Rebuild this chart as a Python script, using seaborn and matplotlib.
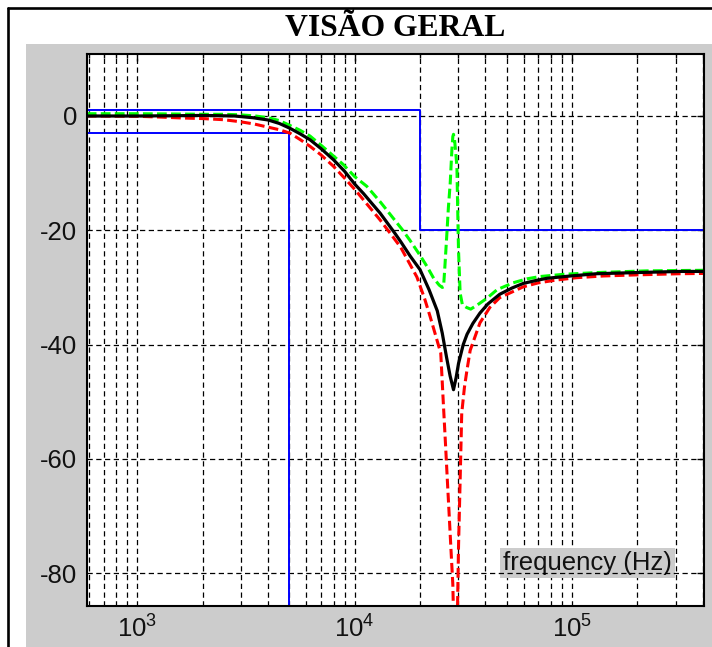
import numpy as np
import pandas as pd
import matplotlib
matplotlib.use("Agg")
import matplotlib.pyplot as plt
from matplotlib.patches import Rectangle
from matplotlib.lines import Line2D
from matplotlib.ticker import LogLocator, NullFormatter
import seaborn as sns

# ---------------- data ----------------
black_f = [585, 1000, 1500, 2000, 2800, 3400, 4000, 4500, 5040, 5600, 6230, 7000, 7990, 9000,
           10000, 11000, 12000, 13100, 14000, 15300, 16300, 18000, 20000, 22000, 24000, 25300,
           26500, 27500, 28500, 29300, 30060, 31600, 32900, 35000, 37700, 41000, 46500, 53000,
           59700, 68000, 76800, 98200, 130000, 198000, 315000, 405000]
black_db = [0.0, 0.0, 0.05, 0.1, 0.0, -0.3, -0.7, -1.3, -2.15, -3.1, -4.15, -5.7, -7.65, -9.7,
            -11.9, -13.6, -15.3, -17.0, -18.5, -20.5, -22.0, -24.5, -26.9, -30.4, -34.1, -38.0,
            -42.3, -45.5, -47.9, -45.8, -43.3, -40.0, -38.2, -36.3, -34.5, -32.9, -31.2, -30.1,
            -29.3, -28.8, -28.4, -28.0, -27.6, -27.4, -27.2, -27.2]

red_f = [585, 1000, 1300, 1600, 2000, 2500, 2970, 3450, 3940, 4500, 5040, 5600, 6230, 7000,
         7990, 9000, 10200, 11500, 13100, 15100, 16300, 18000, 19350, 21000, 22250, 23500,
         24900, 25650, 26200, 26700, 27200, 27700, 28300, 28800, 29150, 29500, 29800, 30060,
         30580, 31100, 32000, 32860, 34020, 37720, 41890, 46490, 53000, 59660, 70000, 85000,
         105000, 139000, 200000, 315000, 405000]
red_db = [0.0, -0.05, -0.2, -0.35, -0.45, -0.65, -1.0, -1.4, -1.9, -2.4, -3.0, -4.1, -5.3, -6.8,
          -8.8, -10.9, -13.2, -15.6, -18.2, -21.3, -23.0, -26.0, -28.2, -32.0, -35.1, -38.2,
          -41.5, -51.0, -57.6, -63.7, -69.5, -75.3, -82.0, -95.0, -130.0, -95.0, -84.0, -75.3,
          -63.7, -52.0, -47.5, -44.5, -41.0, -36.2, -33.5, -31.8, -30.8, -29.9, -29.2, -28.7,
          -28.3, -28.0, -27.8, -27.6, -27.55]

green_f = [585, 1000, 1500, 2000, 2500, 3000, 3500, 4000, 4500, 5040, 5610, 6230, 7000, 7990,
           8870, 10000, 11370, 13100, 14700, 16500, 18000, 20000, 21500, 23100, 24500, 25300,
           25650, 26000, 26580, 27000, 27520, 28020, 28300, 28500, 28800, 29200, 29550, 29740,
           30050, 30580, 31300, 32700, 34200, 36600, 40600, 45200, 53500, 62000, 71000, 91800,
           130000, 220000, 405000]
green_db = [0.4, 0.4, 0.35, 0.3, 0.3, 0.2, 0.0, -0.3, -0.8, -1.65, -2.5, -3.5, -5.1, -7.0,
            -8.5, -10.6, -12.3, -15.0, -17.4, -19.8, -21.8, -24.4, -26.3, -28.4, -29.6, -30.0,
            -29.9, -26.5, -20.5, -16.0, -11.8, -5.9, -3.6, -3.2, -4.0, -6.5, -8.9, -14.7,
            -23.4, -31.0, -33.0, -33.5, -33.8, -33.1, -31.9, -30.4, -29.2, -28.5, -28.1, -27.7,
            -27.4, -27.1, -27.0]

mask1_f = [585, 20000, 20000, 405000]
mask1_db = [1, 1, -20, -20]
mask2_f = [585, 5000, 5000]
mask2_db = [-3, -3, -120]

title_text = "VISÃO GERAL"
xlabel_text = "frequency (Hz)"
y_ticks = [-80, -60, -40, -20, 0]

# ---------------- style ----------------
sns.set_theme(style="white")
plt.rcParams["font.family"] = ["Liberation Sans", "DejaVu Sans"]
plt.rcParams["mathtext.default"] = "regular"
plt.rcParams["axes.unicode_minus"] = False

W, H = 712, 647
fig = plt.figure(figsize=(W / 100, H / 100), dpi=100)
fig.patch.set_facecolor("white")

GRAY = "#cccccc"
fig.add_artist(Rectangle((26 / W, 0), 1, 1 - 43.5 / H, transform=fig.transFigure,
                         facecolor=GRAY, edgecolor="none", zorder=0))
fig.add_artist(Line2D([7.8 / W, 7.8 / W], [0, 1 - 7.5 / H], transform=fig.transFigure,
                      color="black", linewidth=1.9, zorder=1))
fig.add_artist(Line2D([7.8 / W, 1], [1 - 7.5 / H, 1 - 7.5 / H], transform=fig.transFigure,
                      color="black", linewidth=1.9, zorder=1))

L, R, T, B = 86.7, 704, 54, 605.7
ax = fig.add_axes([L / W, 1 - B / H, (R - L) / W, (B - T) / H])
ax.set_facecolor("white")
ax.set_xscale("log")

dash = (0, (3.2, 1.4))
sns.lineplot(x=mask1_f, y=mask1_db, ax=ax, color="#0000ff", linewidth=1.4,
             sort=False, estimator=None, zorder=3)
sns.lineplot(x=mask2_f, y=mask2_db, ax=ax, color="#0000ff", linewidth=1.4,
             sort=False, estimator=None, zorder=3)
sns.lineplot(x=red_f, y=red_db, ax=ax, color="#ff0000", linewidth=2.2, linestyle=dash,
             sort=False, estimator=None, zorder=4)
sns.lineplot(x=green_f, y=green_db, ax=ax, color="#00ff00", linewidth=2.2, linestyle=dash,
             sort=False, estimator=None, zorder=4)
sns.lineplot(x=black_f, y=black_db, ax=ax, color="black", linewidth=2.3,
             sort=False, estimator=None, zorder=5)

ax.set_xlim(585, 405000)
ax.set_ylim(-85.7, 10.85)
ax.xaxis.set_major_locator(LogLocator(base=10))
ax.xaxis.set_minor_locator(LogLocator(base=10, subs=np.arange(2, 10)))
ax.xaxis.set_minor_formatter(NullFormatter())
ax.set_yticks(y_ticks)

gls = (0, (4.2, 2.8))
ax.grid(True, which="major", axis="both", color="black", linestyle=gls, linewidth=0.9)
ax.grid(True, which="minor", axis="x", color="black", linestyle=gls, linewidth=0.9)
ax.set_axisbelow(True)

for s in ax.spines.values():
    s.set_color("black")
    s.set_linewidth(1.5)
    s.set_zorder(6)

ax.tick_params(axis="both", which="both", direction="in", top=True, right=True,
               colors="black", labelcolor="#111111", width=1.0)
ax.tick_params(axis="both", which="major", length=5, labelsize=18.5)
ax.tick_params(axis="x", which="minor", length=3)
ax.tick_params(axis="y", which="major", pad=7)
ax.tick_params(axis="x", which="major", pad=7)

ax.set_title(title_text, fontfamily="Liberation Serif", fontweight="bold",
             fontsize=22.8, pad=13, color="black")

ax.set_xlabel(xlabel_text, fontsize=18.5, color="#111111",
              bbox=dict(facecolor=GRAY, edgecolor="none", pad=2))
ax.xaxis.set_label_coords(0.811, 0.0774)
ax.xaxis.label.set_va("center")
ax.set_ylabel("")

fig.savefig("out.png", dpi=100, facecolor="white")
